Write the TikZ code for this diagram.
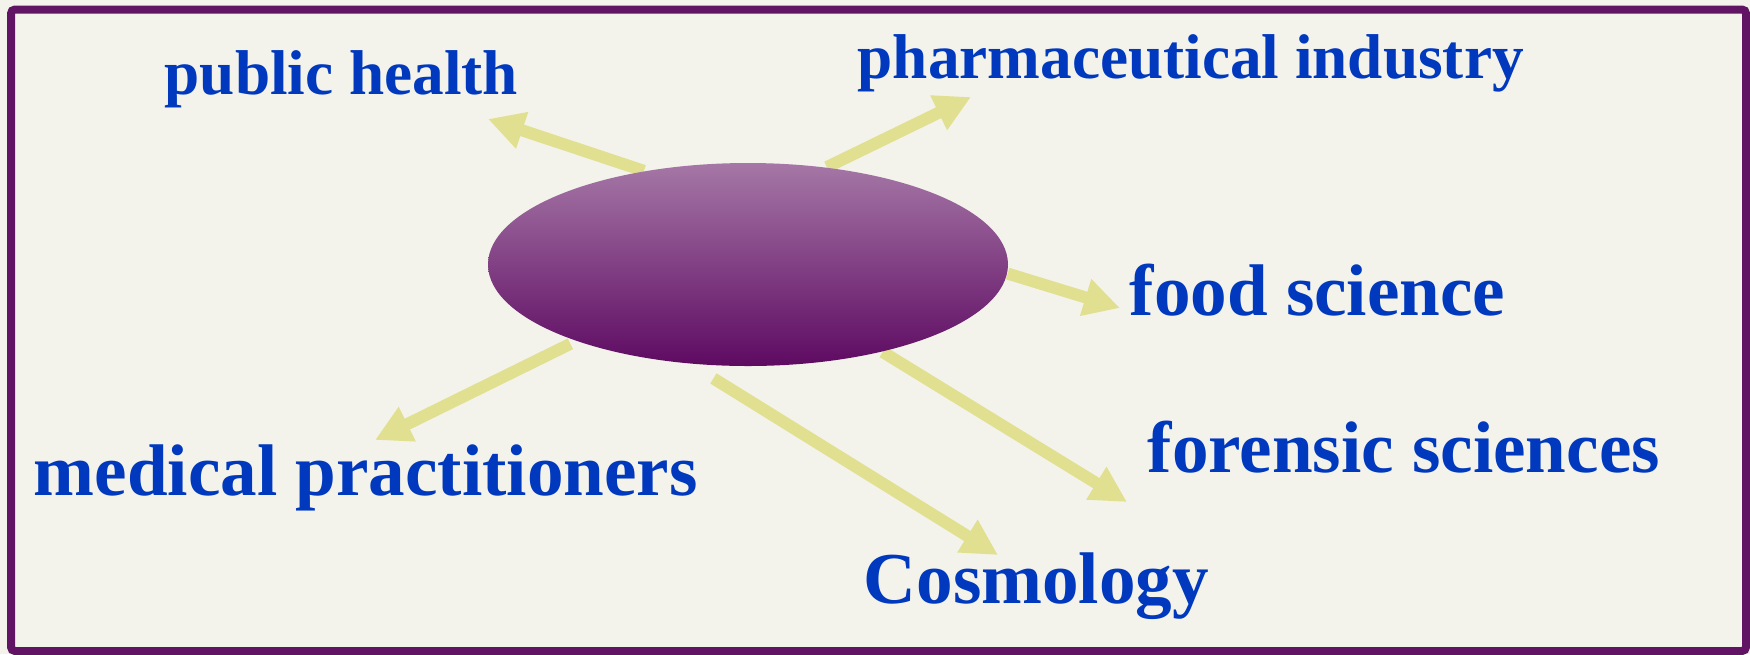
\documentclass[tikz,border=0pt]{standalone}
\usepackage{fontspec}
\setmainfont{Liberation Serif}
\usepackage{xcolor}
\usepackage{tikz}
\usetikzlibrary{arrows.meta,shapes.geometric}

\definecolor{bgcol}{HTML}{F3F3EB}
\definecolor{framecol}{HTML}{621464}
\definecolor{labelblue}{HTML}{0039BE}
\definecolor{raycol}{HTML}{E0E090}
\definecolor{ovaltop}{HTML}{A577A6}
\definecolor{ovalbot}{HTML}{5E0A62}

\pgfdeclarelayer{behind}
\pgfsetlayers{behind,main}

\begin{document}
\begin{tikzpicture}[
    x=0.1mm, y=-0.1mm,
    hub/.style={ellipse, minimum width=52mm, minimum height=20.3mm, inner sep=0pt, top color=ovaltop, bottom color=ovalbot},
    lbl/.style={text=labelblue, font=\bfseries\fontsize{20.8}{25}\selectfont, inner sep=0pt, anchor=base west},
    lblsm/.style={lbl, font=\bfseries\fontsize{18}{22}\selectfont},
    ray/.style={draw=raycol, line width=1.2mm, -{Triangle[length=3.6mm, width=3.6mm]}}
  ]
    \useasboundingbox (0,0) rectangle (1750,654);

    \node[hub] (hub) at (748,264.5) {};

    \node[lblsm] (pubhealth) at (164,94) {public health};
    \node[lblsm] (pharma) at (857,78) {pharmaceutical industry};
    \node[lbl] (food) at (1129,315) {food science};
    \node[lbl] (forensic) at (1147,472) {forensic sciences};
    \node[lbl] (medical) at (33,495) {medical practitioners};
    \node[lbl] (cosmo) at (863,603) {Cosmology};

    \coordinate (pubtip) at (488,119);
    \coordinate (pharmatip) at (971,97);
    \coordinate (foodtip) at (1120,308);
    \coordinate (forensictip) at (1127,502);
    \coordinate (medicaltip) at (375,440);
    \coordinate (cosmotip) at (998,555);

    \begin{pgfonlayer}{behind}
      \fill[bgcol] (0,0) rectangle (1750,654);
      \draw[ray] (hub.138) -- (pubtip);
      \draw[ray] (hub.51) -- (pharmatip);
      \draw[ray] (hub.-2) -- (foodtip);
      \draw[ray] (hub.-33) -- (forensictip);
      \draw[ray, shorten <=0.6mm] (hub.-156) -- (medicaltip);
      \draw[ray, shorten <=2.7mm] (hub.-120) -- (cosmotip);
    \end{pgfonlayer}

    % frame
    \draw[framecol, line width=0.8mm, rounded corners=0.4mm] (11,9.5) rectangle (1746,651);
  \end{tikzpicture}
\end{document}
